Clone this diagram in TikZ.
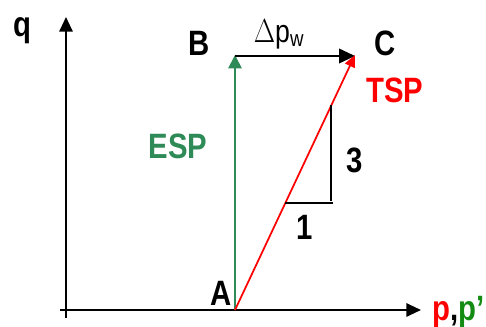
\documentclass[tikz,border=0pt]{standalone}
\usepackage{fontspec}
\setmainfont{Liberation Sans}
\usetikzlibrary{arrows.meta}
\definecolor{espgreen}{RGB}{46,139,87}
\definecolor{pgreen}{RGB}{20,140,20}
\newcommand{\vstretch}[1]{\scalebox{1}[1.2]{#1}}
\begin{document}
\begin{tikzpicture}[x={(0.75pt,0)},y={(0,-0.75pt)},
  lbl/.style={font=\fontsize{22}{22}\selectfont\bfseries, inner sep=0pt},
  axis/.style={line width=1.5pt, -{Triangle[length=11pt,width=10pt]}},
  thinline/.style={line width=1.1pt}]
\useasboundingbox (0,0) rectangle (486,327);
% coordinates
\coordinate (yb) at (66,318);
\coordinate (yt) at (66,17);
\coordinate (xl) at (60,310);
\coordinate (xr) at (421,310);
\coordinate (A) at (235,310);
\coordinate (Bt) at (235,55);
\coordinate (B0) at (235,56);
\coordinate (Ct) at (355,56);
\coordinate (Cr) at (355,55);
\coordinate (t1) at (331,105);
\coordinate (t2) at (331,201);
\coordinate (t3) at (285,203);
\coordinate (t4) at (333,203);
% axes
\draw[axis] (yb) -- (yt);
\draw[axis] (xl) -- (xr);
% paths
\draw[espgreen, line width=1.3pt, -{Triangle[length=10pt,width=10pt]}] (A) -- (Bt);
\draw[black, line width=1.3pt, -{Triangle[length=12pt,width=11pt]}] (B0) -- (Ct);
\draw[red, line width=1.3pt, -{Triangle[length=9pt,width=8pt]}] (A) -- (Cr);
\draw[thinline] (t1) -- (t2);
\draw[thinline] (t3) -- (t4);
% labels
\node[lbl] (q) at (22,31) {\vstretch{q}};
\node[lbl] (la) at (221,293) {\vstretch{A}};
\node[lbl] (lb) at (199,43) {\vstretch{B}};
\node[lbl] (lc) at (385,43) {\vstretch{C}};
\node[inner sep=0pt, font=\fontsize{20}{20}\selectfont] (dp) at (279,34) {\vstretch{$\Delta$p\textsubscript{w}}};
\node[lbl, red] (tsp) at (395,90) {\vstretch{TSP}};
\node[lbl, espgreen] (esp) at (178,146) {\vstretch{ESP}};
\node[lbl] (three) at (355,160) {\vstretch{3}};
\node[lbl] (one) at (305,227) {\vstretch{1}};
\node[lbl, anchor=west] (pp) at (432,312) {\vstretch{\textcolor{red}{p},\textcolor{pgreen}{p’}}};
\end{tikzpicture}
\end{document}
